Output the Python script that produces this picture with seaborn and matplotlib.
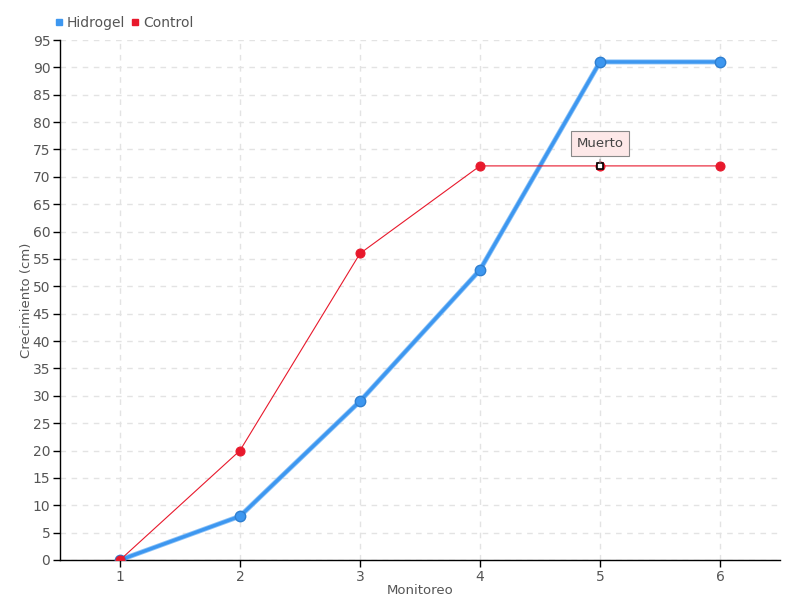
import matplotlib
matplotlib.use("Agg")
import matplotlib.pyplot as plt
import seaborn as sns
import pandas as pd

monitoreo = [1, 2, 3, 4, 5, 6]
hidrogel = [0, 8, 29, 53, 91, 91]
control = [0, 20, 56, 72, 72, 72]
series_names = ["Hidrogel", "Control"]
y_ticks = list(range(0, 100, 5))
annot_text = "Muerto"
annot_idx = 4

sns.set_style("white")
plt.rcParams['font.family'] = ['DejaVu Sans']

df = pd.DataFrame({
    "Monitoreo": monitoreo * 2,
    "Crecimiento": hidrogel + control,
    "Serie": [series_names[0]] * 6 + [series_names[1]] * 6,
})

fig = plt.figure(figsize=(8, 6), dpi=100)
ax = fig.add_axes([0.075, 0.0667, 0.9, 0.8666])

blue = "#3d97f0"
red = "#e8192c"

sns.lineplot(data=df[df.Serie == "Hidrogel"], x="Monitoreo", y="Crecimiento",
             color="#8cc2f7", linewidth=3.6, ax=ax, zorder=2, legend=False)
sns.lineplot(data=df[df.Serie == "Hidrogel"], x="Monitoreo", y="Crecimiento",
             color=blue, linewidth=2.4, marker="o", markersize=7.5,
             markeredgecolor="#2f7fd0", markeredgewidth=1, ax=ax, zorder=3,
             legend=False)
sns.lineplot(data=df[df.Serie == "Control"], x="Monitoreo", y="Crecimiento",
             color=red, linewidth=0.8, marker="o", markersize=6.5,
             markeredgecolor=red, ax=ax, zorder=4, legend=False)

# special marker at the annotated point
ax.plot([monitoreo[annot_idx]], [control[annot_idx]], marker="s", markersize=4,
        markerfacecolor="white", markeredgecolor="black", markeredgewidth=1.2,
        linestyle="none", zorder=6)
ax.annotate(annot_text, xy=(monitoreo[annot_idx], control[annot_idx]),
            xytext=(0, 16), textcoords="offset points", ha="center", va="center",
            fontsize=9.5, color="#444444",
            bbox=dict(boxstyle="square,pad=0.45", fc="#fde8e8", ec="#888888", lw=0.8),
            arrowprops=dict(arrowstyle="-", color="#888888", lw=0.8), zorder=7)

ax.set_xlim(0.5, 6.5)
ax.set_ylim(0, 95)
ax.set_xticks(monitoreo)
ax.set_yticks(y_ticks)
ax.grid(True, linestyle=(0, (4, 4)), color="#e3e3e3", linewidth=1)
ax.set_axisbelow(True)
for s in ["top", "right"]:
    ax.spines[s].set_visible(False)
for s in ["left", "bottom"]:
    ax.spines[s].set_color("black")
    ax.spines[s].set_linewidth(1)
ax.tick_params(axis="both", which="both", direction="out", length=5, width=1,
               color="black", labelsize=10, labelcolor="#555555", left=True, bottom=True,
               pad=2)
ax.set_xlabel("Monitoreo", fontsize=9.5, color="#555555", labelpad=0)
ax.set_ylabel("Crecimiento (cm)", fontsize=9.5, color="#555555", labelpad=0)

ax.legend(loc="lower left", bbox_to_anchor=(-0.02, 1.0), ncol=2, frameon=False,
          fontsize=10, handlelength=0.5, handletextpad=0.3, columnspacing=0.5,
          borderpad=0.2, labelcolor="#555555",
          handles=[plt.Line2D([], [], marker="s", color=blue, linestyle="none", markersize=5),
                   plt.Line2D([], [], marker="s", color=red, linestyle="none", markersize=5)],
          labels=series_names)

fig.savefig("out.png", dpi=100)
